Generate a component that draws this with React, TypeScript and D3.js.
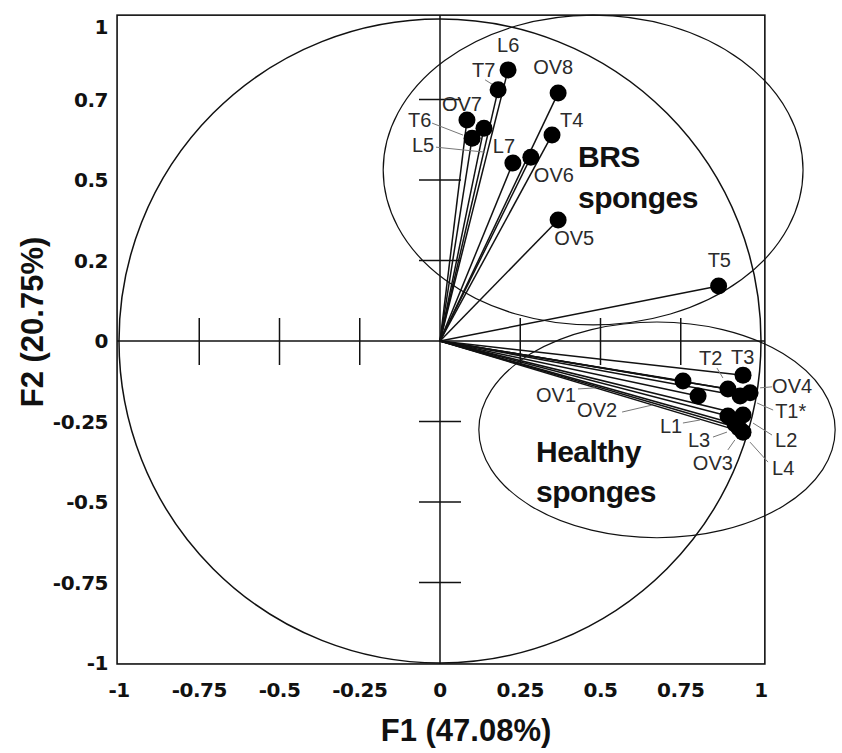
import React from 'react';
import * as d3 from 'd3';

// ---- data ----
const names = ['L6', 'T7', 'OV8', 'OV7', 'L5', 'T6', 'T4', 'L7', 'OV6', 'OV5', 'T5',
  'OV1', 'T3', 'T2', 'OV2', 'OV4', 'T1*', 'L1', 'L2', 'L3', 'OV3', 'L4'];
const f1 = [0.212, 0.181, 0.368, 0.084, 0.137, 0.100, 0.349, 0.227, 0.283, 0.368, 0.868,
  0.757, 0.944, 0.897, 0.804, 0.966, 0.935, 0.897, 0.944, 0.919, 0.931, 0.944];
const f2 = [0.842, 0.780, 0.770, 0.686, 0.661, 0.630, 0.640, 0.553, 0.571, 0.376, 0.171,
  -0.124, -0.106, -0.149, -0.171, -0.161, -0.171, -0.233, -0.230, -0.258, -0.270, -0.283];

const xTickValues = [-1, -0.75, -0.5, -0.25, 0, 0.25, 0.5, 0.75, 1];
const xTickLabels = ['-1', '-0.75', '-0.5', '-0.25', '0', '0.25', '0.5', '0.75', '1'];
const yTickValues = [-1, -0.75, -0.5, -0.25, 0, 0.25, 0.5, 0.75, 1];
const yTickLabels = ['-1', '-0.75', '-0.5', '-0.25', '0', '0.2', '0.5', '0.7', '1'];
const crossTicks = [-0.75, -0.5, -0.25, 0.25, 0.5, 0.75];

// group ellipses in data units: [cx, cy, rx, ry, rotation deg]
const groups = [
  { name: 'BRS', lines: ['BRS', 'sponges'], cx: 0.477, cy: 0.531, rx: 0.654, ry: 0.481, rot: 0, tx: 0.43, ty: [0.540, 0.413] },
  { name: 'Healthy', lines: ['Healthy', 'sponges'], cx: 0.676, cy: -0.276, rx: 0.555, ry: 0.335, rot: 0, tx: 0.299, ty: [-0.376, -0.50] },
];

const xTitle = 'F1 (47.08%)';
const yTitle = 'F2 (20.75%)';

// ---- layout (label placement, px offsets from dot) ----
type LO = { dx: number; dy: number; lead?: [number, number, number, number] };
const labelLayout: Record<string, LO> = {
  L6: { dx: -11, dy: -18 },
  T7: { dx: -26, dy: -13, lead: [-13, -10, -5, -5] },
  OV8: { dx: -25, dy: -19 },
  OV7: { dx: -25, dy: -9 },
  T6: { dx: -64, dy: -11, lead: [-40, -15, -9, -3] },
  L5: { dx: -72, dy: 24, lead: [-48, 19, 1, 24] },
  T4: { dx: 8, dy: -8 },
  L7: { dx: -20, dy: -10 },
  OV6: { dx: 3, dy: 25 },
  OV5: { dx: -4, dy: 25 },
  T5: { dx: -11, dy: -19 },
  OV1: { dx: -147, dy: 21, lead: [-105, 8, -88, 7] },
  T3: { dx: -12, dy: -11 },
  T2: { dx: -29, dy: -24, lead: [-11, -21, -5, -11] },
  OV2: { dx: -121, dy: 21, lead: [-76, 16, -46, 9] },
  OV4: { dx: 22, dy: 0, lead: [22, -6, 10, -5] },
  'T1*': { dx: 35, dy: 22, lead: [33, 14, 17, 7] },
  L1: { dx: -68, dy: 17, lead: [-45, 7, -28, 4] },
  L2: { dx: 32, dy: 32, lead: [29, 20, 10, 8] },
  L3: { dx: -47, dy: 23, lead: [-22, 13, -8, 8] },
  OV3: { dx: -46, dy: 42, lead: [-11, 22, -4, 12] },
  L4: { dx: 29, dy: 43, lead: [25, 30, 7, 10] },
};

const W = 842;
const H = 753;

export default function App() {
  const x = d3.scaleLinear().domain([-1, 1]).range([119, 761]);
  const y = d3.scaleLinear().domain([-1, 1]).range([663, 19]);
  const frame = { x0: x(-1.006), x1: x(1.012), y0: y(1.012), y1: y(-1.003) };
  const ink = '#111';
  const tickFont = "'DejaVu Sans', sans-serif";
  const arial = "'Liberation Sans', Arial, sans-serif";

  const points = names.map((n, i) => ({ n, px: x(f1[i]), py: y(f2[i]) }));

  return (
    <svg width={W} height={H} viewBox={`0 0 ${W} ${H}`}
      style={{ position: 'absolute', left: 0, top: 0, background: '#fff' }}>
      <rect x={0} y={0} width={W} height={H} fill="#fff" />
      {/* frame */}
      <rect x={frame.x0} y={frame.y0} width={frame.x1 - frame.x0} height={frame.y1 - frame.y0}
        fill="none" stroke={ink} strokeWidth={1.6} />
      {/* axes through origin */}
      <line x1={frame.x0} x2={frame.x1} y1={y(0)} y2={y(0)} stroke={ink} strokeWidth={1.5} />
      <line x1={x(0)} x2={x(0)} y1={frame.y0} y2={frame.y1} stroke={ink} strokeWidth={1.5} />
      {crossTicks.map((v) => (
        <g key={'ct' + v}>
          <line x1={x(v)} x2={x(v)} y1={y(0) - 23} y2={y(0) + 24} stroke={ink} strokeWidth={1.5} />
          <line x1={x(0) - 21} x2={x(0) + 21} y1={y(v)} y2={y(v)} stroke={ink} strokeWidth={1.5} />
        </g>
      ))}
      {/* correlation circle */}
      <ellipse cx={x(0)} cy={y(0)} rx={x(1) - x(0)} ry={y(0) - y(1)} fill="none" stroke={ink} strokeWidth={1.5} />
      {/* group ellipses */}
      {groups.map((g) => (
        <ellipse key={g.name} cx={x(g.cx)} cy={y(g.cy)} rx={x(g.rx) - x(0)} ry={y(0) - y(g.ry)}
          transform={`rotate(${g.rot} ${x(g.cx)} ${y(g.cy)})`}
          fill="none" stroke={ink} strokeWidth={1.2} />
      ))}
      {/* vectors */}
      {points.map((p) => (
        <line key={'v' + p.n} x1={x(0)} y1={y(0)} x2={p.px} y2={p.py} stroke={ink} strokeWidth={1.5} />
      ))}
      {/* leader lines */}
      {points.map((p) => {
        const l = labelLayout[p.n];
        if (!l || !l.lead) return null;
        return <line key={'ld' + p.n} x1={p.px + l.lead[0]} y1={p.py + l.lead[1]} x2={p.px + l.lead[2]} y2={p.py + l.lead[3]}
          stroke="#777" strokeWidth={1} />;
      })}
      {/* dots */}
      {points.map((p) => (
        <circle key={'d' + p.n} cx={p.px} cy={p.py} r={8.5} fill="#000" />
      ))}
      {/* point labels */}
      {points.map((p) => {
        const l = labelLayout[p.n] || { dx: 8, dy: -8 };
        return <text key={'t' + p.n} x={p.px + l.dx} y={p.py + l.dy} fontFamily={arial} fontSize={20} fill="#2b2b2b">{p.n}</text>;
      })}
      {/* group names */}
      {groups.map((g) => (
        <g key={'gt' + g.name}>
          {g.lines.map((s, i) => (
            <text key={s + i} x={x(g.tx)} y={y(g.ty[i])} fontFamily={arial} fontWeight="bold" fontSize={30} letterSpacing={-0.5} fill="#111">{s}</text>
          ))}
        </g>
      ))}
      {/* x tick labels */}
      {xTickValues.map((v, i) => (
        <text key={'xl' + v} x={x(v)} y={697} textAnchor="middle" fontFamily={tickFont} fontWeight="bold" fontSize={20} letterSpacing={-0.5} fill="#111">{xTickLabels[i]}</text>
      ))}
      {/* y tick labels */}
      {yTickValues.map((v, i) => (
        <text key={'yl' + v} x={108} y={Math.max(y(v), 27)} dy="0.36em" textAnchor="end" fontFamily={tickFont} fontWeight="bold" fontSize={20} letterSpacing={-0.5} fill="#111">{yTickLabels[i]}</text>
      ))}
      {/* axis titles */}
      <text x={466} y={741} textAnchor="middle" fontFamily={arial} fontWeight="bold" fontSize={31} fill="#111">{xTitle}</text>
      <text transform={`translate(43, 322) rotate(-90)`} textAnchor="middle" fontFamily={arial} fontWeight="bold" fontSize={31} fill="#111">{yTitle}</text>
    </svg>
  );
}
